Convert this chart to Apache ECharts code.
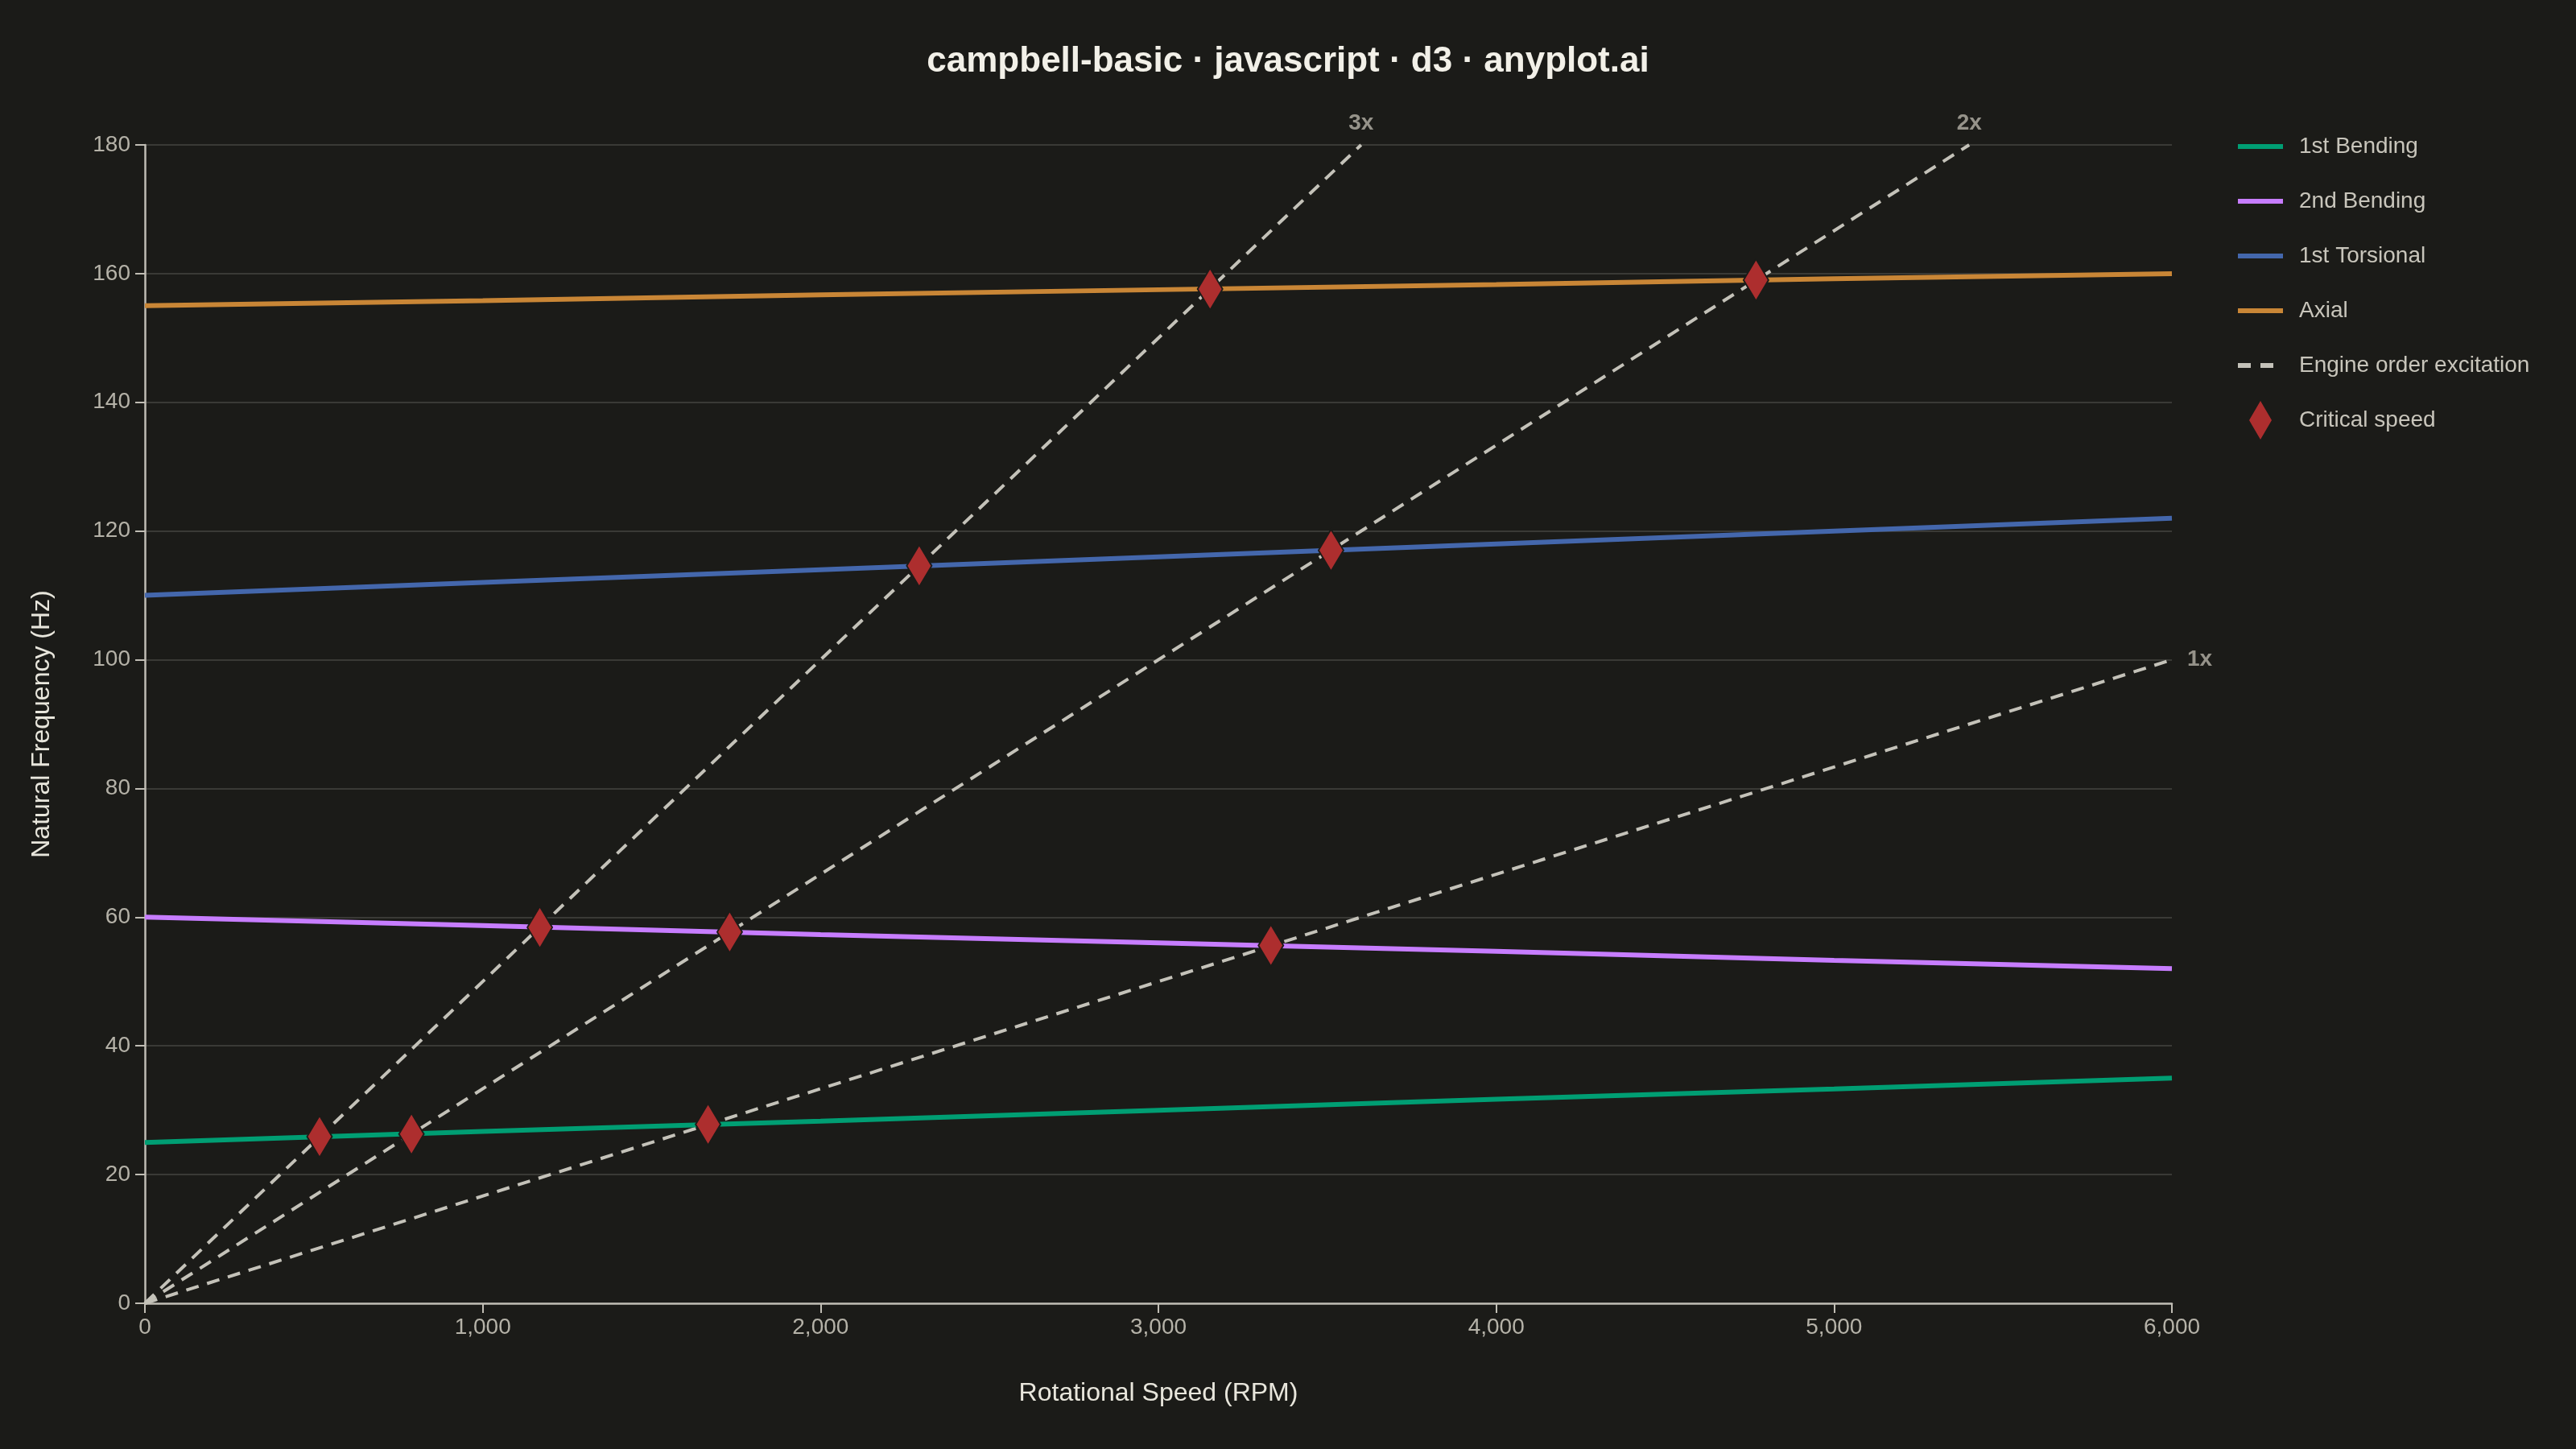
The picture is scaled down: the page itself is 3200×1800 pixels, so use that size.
<!DOCTYPE html>
<html>
<head>
<meta charset="utf-8">
<title>campbell-basic</title>
<script src="https://cdn.jsdelivr.net/npm/echarts@6/dist/echarts.min.js"></script>
<style>
    html, body { margin: 0; padding: 0; background: #1b1b18; }
    #chart { width: 3200px; height: 1800px; }
</style>
</head>
<body>
<div id="chart"></div>
<script>
// rotational speed grid (RPM)
var rpm = [0, 1000, 2000, 3000, 4000, 5000, 6000];
// natural frequencies (Hz) per mode, read at each rpm step
var bending1 = [25, 26.7, 28.3, 30, 31.7, 33.3, 35];
var bending2 = [60, 58.7, 57.3, 56, 54.7, 53.3, 52];
var torsional1 = [110, 112, 114, 116, 118, 120, 122];
var axial = [155, 155.8, 156.7, 157.5, 158.3, 159.2, 160];

// engine order lines: start at origin, end points
var orderNames = ['1x', '2x', '3x'];
var orderEndRpm = [6000, 5400, 3600];
var orderEndHz = [100, 180, 180];

// critical speeds (intersections)
var critRpm = [517, 789, 1667, 1169, 1731, 3333, 2292, 3511, 3153, 4769];
var critHz = [25.9, 26.3, 27.8, 58.4, 57.7, 55.6, 114.6, 117.0, 157.6, 159.0];

var modeNames = ['1st Bending', '2nd Bending', '1st Torsional', 'Axial'];
var modeValues = [bending1, bending2, torsional1, axial];
var modeColors = ['#009e73', '#c77dff', '#4467ac', '#c98636'];

var bg = '#1b1b18';
var dashColor = '#c4c2b9';
var critColor = '#ad2e2e';
var font = '"Liberation Sans", Arial, sans-serif';

// legend icons (all 56x48 boxes so the rows are evenly spaced)
var pad = ' M0,0 L0.05,0 L0,0.05 Z M55.95,48 L56,48 L56,47.95 Z';
var lineIcon = 'path://M0,21 L56,21 L56,27 L0,27 Z' + pad;
var dashIcon = 'path://M0,21 L16,21 L16,27 L0,27 Z M28,21 L44,21 L44,27 L28,27 Z' + pad;
var diamondIcon = 'path://M28,0 L42,24 L28,48 L14,24 Z' + pad;

var chart = echarts.init(document.getElementById('chart'));

var series = [];

// engine order excitation lines
for (var i = 0; i < orderNames.length; i++) {
    series.push({
        name: 'Engine order excitation',
        type: 'line',
        symbol: 'none',
        silent: true,
        z: 2,
        data: [[0, 0], [orderEndRpm[i], orderEndHz[i]]],
        lineStyle: { color: dashColor, width: 4, type: [16, 11] },
        itemStyle: { color: dashColor }
    });
}

// modal lines
for (var m = 0; m < modeNames.length; m++) {
    var pts = [];
    for (var k = 0; k < rpm.length; k++) {
        pts.push([rpm[k], modeValues[m][k]]);
    }
    series.push({
        name: modeNames[m],
        type: 'line',
        symbol: 'none',
        z: 3,
        data: pts,
        lineStyle: { color: modeColors[m], width: 6 },
        itemStyle: { color: modeColors[m] }
    });
}

// order labels
var labelData = [];
for (var j = 0; j < orderNames.length; j++) {
    labelData.push({
        value: [orderEndRpm[j], orderEndHz[j]],
        label: {
            show: true,
            formatter: orderNames[j],
            position: j == 0 ? 'right' : 'top',
            distance: j == 0 ? 18 : 12
        }
    });
}
series.push({
    name: 'orderLabels',
    type: 'scatter',
    symbolSize: 2,
    silent: true,
    z: 4,
    itemStyle: { color: 'rgba(0,0,0,0)' },
    label: { color: '#b5b2a8', fontSize: 28, fontWeight: 'bold', fontFamily: font },
    data: labelData
});

// critical speeds
var critData = [];
for (var c = 0; c < critRpm.length; c++) {
    critData.push([critRpm[c], critHz[c]]);
}
series.push({
    name: 'Critical speed',
    type: 'scatter',
    symbol: 'diamond',
    symbolSize: [31, 52],
    z: 5,
    data: critData,
    itemStyle: { color: critColor, borderColor: bg, borderWidth: 2, opacity: 1 }
});

var option = {
    backgroundColor: bg,
    animation: false,
    title: {
        text: 'campbell-basic · javascript · d3 · anyplot.ai',
        left: 'center',
        top: 50,
        textStyle: { color: '#f2f0e8', fontSize: 44, fontWeight: 'bold', fontFamily: font }
    },
    legend: {
        orient: 'vertical',
        left: 2775,
        top: 153,
        itemWidth: 56,
        itemHeight: 48,
        itemGap: 20,
        textStyle: { color: '#c8c5bb', fontSize: 28, fontFamily: font, padding: [0, 0, 0, 15] },
        data: [
            { name: '1st Bending', icon: lineIcon },
            { name: '2nd Bending', icon: lineIcon },
            { name: '1st Torsional', icon: lineIcon },
            { name: 'Axial', icon: lineIcon },
            { name: 'Engine order excitation', icon: dashIcon },
            {
                name: 'Critical speed',
                icon: diamondIcon,
                itemStyle: { color: critColor, borderWidth: 0 }
            }
        ]
    },
    grid: { left: 180, right: 502, top: 180, bottom: 181, containLabel: false },
    xAxis: {
        type: 'value',
        min: 0,
        max: 6000,
        interval: 1000,
        name: 'Rotational Speed (RPM)',
        nameLocation: 'middle',
        nameGap: 96,
        nameTextStyle: { color: '#e8e6dc', fontSize: 32, fontFamily: font },
        axisLine: { lineStyle: { color: '#c0bdb4', width: 2.5 } },
        axisTick: { show: true, length: 12, lineStyle: { color: '#c0bdb4', width: 2 } },
        axisLabel: {
            color: '#b5b2a8', fontSize: 28, fontFamily: font, margin: 16,
            formatter: function (v) { return v.toLocaleString('en-US'); }
        },
        splitLine: { show: false }
    },
    yAxis: {
        type: 'value',
        min: 0,
        max: 180,
        interval: 20,
        name: 'Natural Frequency (Hz)',
        nameLocation: 'middle',
        nameGap: 112,
        nameTextStyle: { color: '#e8e6dc', fontSize: 32, fontFamily: font },
        axisLine: { show: true, lineStyle: { color: '#c0bdb4', width: 2.5 } },
        axisTick: { show: true, length: 12, lineStyle: { color: '#c0bdb4', width: 2 } },
        axisLabel: { color: '#b5b2a8', fontSize: 28, fontFamily: font, margin: 18 },
        splitLine: { show: true, lineStyle: { color: '#3a3a36', width: 2 } }
    },
    series: series
};

chart.setOption(option);
</script>
</body>
</html>
